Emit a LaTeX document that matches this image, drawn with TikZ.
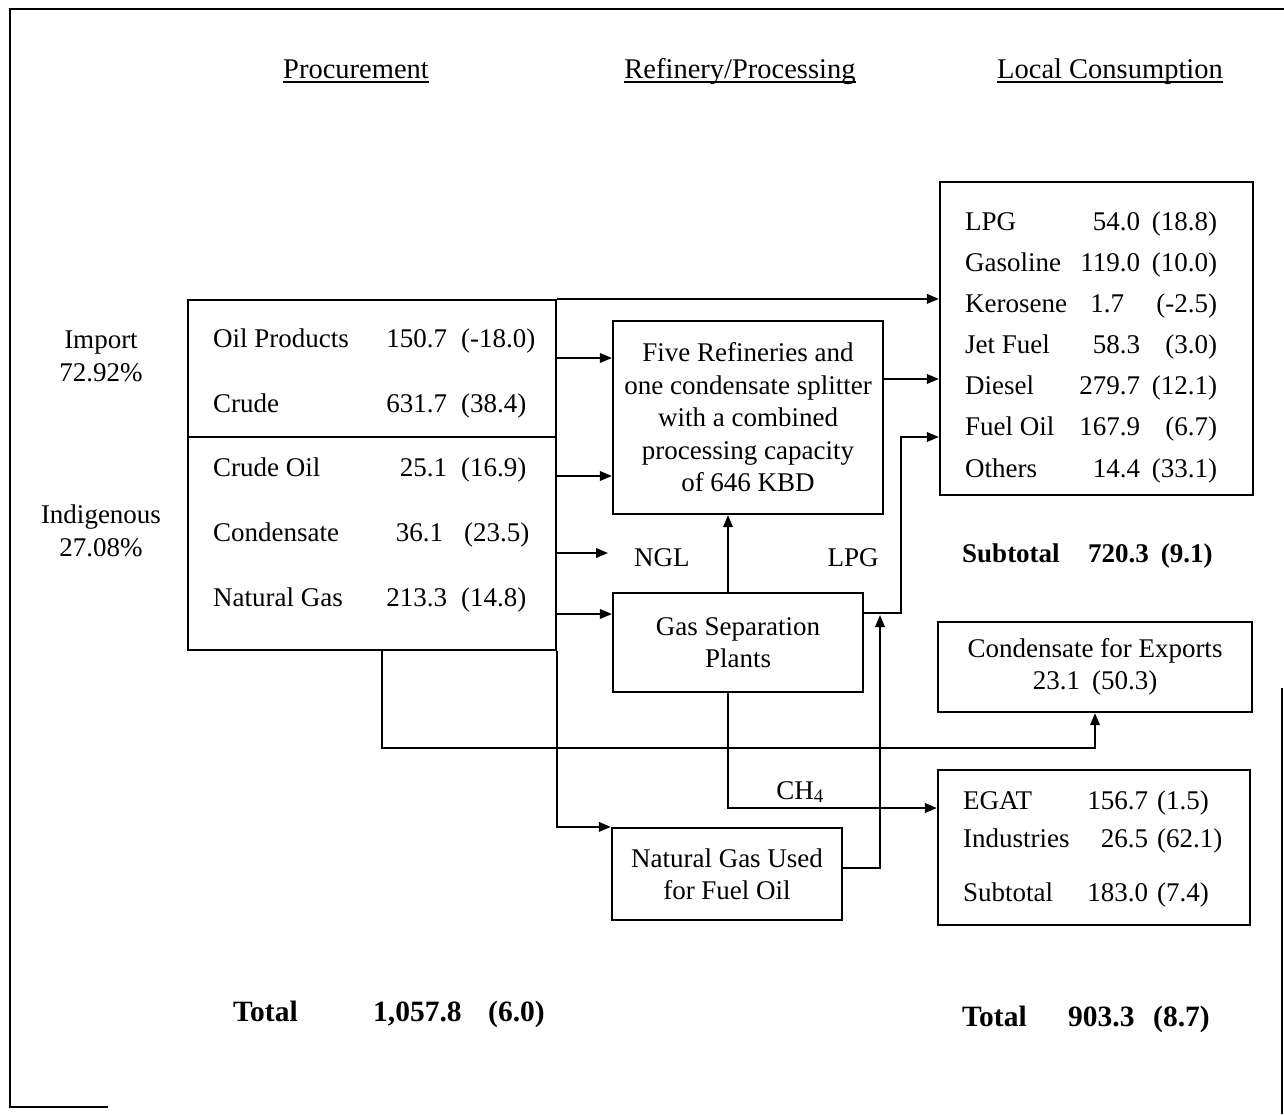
\documentclass[tikz,border=0pt]{standalone}
\usepackage{fontspec}
\setmainfont{Liberation Serif}
\usetikzlibrary{arrows.meta,calc}
\newcommand\ulx[1]{\setbox0\hbox{#1}\rlap{\rule[-4.5pt]{\wd0}{1.6pt}}\box0}
\newcommand\prow[3]{\makebox[234pt][l]{#1}\makebox[0pt][r]{#2}\hspace{14pt}#3}
\newcommand\crow[3]{\makebox[175pt][l]{#1}\makebox[0pt][r]{#2}\makebox[77pt][r]{#3}}
\newcommand\erow[3]{\makebox[185pt][l]{#1}\makebox[0pt][r]{#2}\hspace{9pt}#3}
\begin{document}
\begin{tikzpicture}[x=1pt,y=-1pt,
  every node/.style={font=\fontsize{27}{32.5}\selectfont, inner sep=0pt},
  hdr/.style={anchor=base, font=\fontsize{28.5}{33}\selectfont},
  box/.style={draw, line width=2.2pt, align=center},
  rowt/.style={anchor=base west},
  bigb/.style={anchor=base west, font=\fontsize{29.5}{34}\selectfont\bfseries},
  arr/.style={line width=2pt, -{Triangle[length=12pt,width=9.5pt]}},
  ln/.style={line width=2pt}]
\useasboundingbox (0,0) rectangle (1284,1114);
% frame (scanned page edges)
\draw[line width=2.5pt] (1284,9) -- (10,9) -- (10,1107) -- (108,1107);
\draw[line width=2pt] (1282,688) -- (1282,1114);

% headers
\node[hdr] (h1) at (356,78) {\ulx{Procurement}};
\node[hdr] (h2) at (740,78) {\ulx{Refinery/Processing}};
\node[hdr] (h3) at (1110,78) {\ulx{Local Consumption}};

% side labels
\node[align=center, anchor=base] (imp) at (101,381) {Import\\72.92\%};
\node[align=center, anchor=base] (ind) at (101,556) {Indigenous\\27.08\%};

% boxes
\node[box, minimum width=368pt, minimum height=350pt] (proc) at (372,475) {};
\node[box, minimum width=270pt, minimum height=193pt] (ref) at (748,417.5)
  {Five Refineries and\\one condensate splitter\\with a combined\\processing capacity\\of 646 KBD};
\node[box, minimum width=250pt, minimum height=99pt] (gs) at (738,642.5) {Gas Separation\\Plants};
\node[box, minimum width=230pt, minimum height=92pt] (ngu) at (727,874) {Natural Gas Used\\for Fuel Oil};
\node[box, minimum width=313pt, minimum height=313pt] (cons) at (1096.5,338.5) {};
\node[box, minimum width=314pt, minimum height=90pt] (cond) at (1095,667) {Condensate for Exports\\23.1\hspace{12pt}(50.3)};
\node[box, minimum width=312pt, minimum height=155pt] (egat) at (1094,847.5) {};

\coordinate (dv) at (372,437);
\draw[line width=2.2pt] (proc.west |- dv) -- (proc.east |- dv);

% procurement rows
\node[rowt] (pr1) at (213,347) {\prow{Oil Products}{150.7}{(-18.0)}};
\node[rowt] (pr2) at (213,412) {\prow{Crude}{631.7}{(38.4)}};
\node[rowt] (pr3) at (213,476) {\prow{Crude Oil}{25.1}{(16.9)}};
\node[rowt] (pr4) at (213,541) {\prow{Condensate}{36.1\hspace{4pt}}{\hspace{3pt}(23.5)}};
\node[rowt] (pr5) at (213,606) {\prow{Natural Gas}{213.3}{(14.8)}};

% consumption rows
\node[rowt] (cr1) at (965,230) {\crow{LPG}{54.0}{(18.8)}};
\node[rowt] (cr2) at (965,271) {\crow{Gasoline}{119.0}{(10.0)}};
\node[rowt] (cr3) at (965,312) {\crow{Kerosene}{1.7\hspace{16pt}}{(-2.5)}};
\node[rowt] (cr4) at (965,353) {\crow{Jet Fuel}{58.3}{(3.0)}};
\node[rowt] (cr5) at (965,394) {\crow{Diesel}{279.7}{(12.1)}};
\node[rowt] (cr6) at (965,435) {\crow{Fuel Oil}{167.9}{(6.7)}};
\node[rowt] (cr7) at (965,477) {\crow{Others}{14.4}{(33.1)}};

\node[rowt, font=\fontsize{27}{32.5}\selectfont\bfseries] (sub) at (962,562)
  {\makebox[126pt][l]{Subtotal}720.3\hspace{12pt}(9.1)};

% EGAT rows
\node[rowt] (er1) at (963,809) {\erow{EGAT}{156.7}{(1.5)}};
\node[rowt] (er2) at (963,847) {\erow{Industries}{26.5}{(62.1)}};
\node[rowt] (er3) at (963,901) {\erow{Subtotal}{183.0}{(7.4)}};

% totals
\node[bigb] (tot1) at (233,1021)
  {\makebox[140pt][l]{Total}\makebox[115pt][l]{1,057.8}(6.0)};
\node[bigb] (tot2) at (962,1026)
  {\makebox[106pt][l]{Total}\makebox[85pt][l]{903.3}(8.7)};

% flow labels
\node[rowt] (ngl) at (634,566) {NGL};
\node[anchor=base] (lpg) at (853,566) {LPG};
\node[anchor=base] (ch4) at (800,799) {CH\textsubscript{4}};

% coordinates
\coordinate (b1) at (556,358);
\coordinate (b2) at (556,476);
\coordinate (b3) at (556,553);
\coordinate (b4) at (556,614);
\coordinate (r3) at (883,379);
\coordinate (lA) at (901,613);
\coordinate (lB) at (901,437);
\coordinate (gx) at (728,0);
\coordinate (ch) at (728,808);
\coordinate (ne) at (842,868);
\coordinate (nx) at (880,615);
\coordinate (c1) at (382,748);

% connectors
\draw[arr] (proc.north east) -- (proc.north east -| cons.west);
\draw[arr] (proc.south east) |- (ngu.north west);
\draw[arr] (b1) -- (b1 -| ref.west);
\draw[arr] (b2) -- (b2 -| ref.west);
\draw[arr, shorten >=26pt] (b3) -- (b3 -| ngl.west);
\draw[arr] (b4) -- (b4 -| gs.west);
\draw[arr] (gx |- gs.north) -- (gx |- ref.south);
\draw[arr] (r3 -| ref.east) -- (r3 -| cons.west);
\draw[arr] (lA -| gs.east) -- (lA) -- (lB) -- (lB -| cons.west);
\draw[arr] (ne -| ngu.east) -| (nx);
\draw[arr] (gx |- gs.south) |- (ch -| egat.west);
\draw[arr] (c1 |- proc.south) -- (c1) -| (cond.south);
\end{tikzpicture}
\end{document}
